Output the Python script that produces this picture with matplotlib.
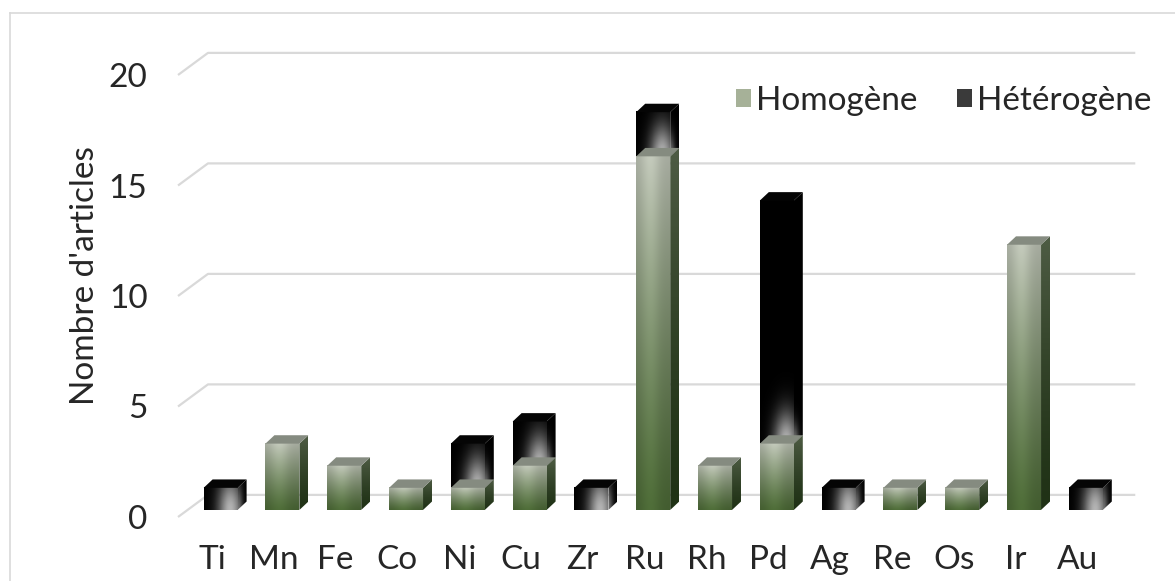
import numpy as np
import matplotlib.pyplot as plt
from matplotlib.patches import Polygon, Patch
from matplotlib.lines import Line2D

plt.rcParams['font.family'] = ['Lato', 'DejaVu Sans']

metaux = ['Ti', 'Mn', 'Fe', 'Co', 'Ni', 'Cu', 'Zr', 'Ru', 'Rh', 'Pd', 'Ag', 'Re', 'Os', 'Ir', 'Au']
homogene = [0, 3, 2, 1, 1, 2, 0, 16, 2, 3, 0, 1, 1, 12, 0]
heterogene = [1, 0, 0, 0, 2, 2, 1, 2, 0, 11, 1, 0, 0, 0, 1]
yticks = [0, 5, 10, 15, 20]

W, H = 1175, 581
fig = plt.figure(figsize=(W/100, H/100), dpi=100)
# axes placed so the front plane of the 3d box is the data plane
xmin, xmax = -0.55, 14.95
ymin, ymax = 0, 21
px_x, px_y = 61.8, 22.1
ax = fig.add_axes([178/W, (H-517)/H, (xmax-xmin)*px_x/W, (ymax-ymin)*px_y/H])
ax.set_xlim(xmin, xmax)
ax.set_ylim(ymin, ymax)
for s in ax.spines.values():
    s.set_visible(False)
ax.patch.set_alpha(0)

# floor depth and bar depth (data units)
fdx, fdy = 0.485, 1.0
bdx, bdy = 0.145, 0.38
bw = 0.55
boff = 0.14
b0 = 0.32

grid_col = '#d9d9d9'
for v in yticks:
    ax.plot([xmin, xmin+fdx, 14.94], [v, v+fdy, v+fdy], color=grid_col, lw=1.6,
            clip_on=False, zorder=1, solid_capstyle='butt')


def lerp(c1, c2, t):
    c1 = np.array(c1)/255.0
    c2 = np.array(c2)/255.0
    return c1[None, None, :]*(1-t[..., None]) + c2[None, None, :]*t[..., None]


def face_img(kind, face, h, n=80, m=40):
    u = np.linspace(0, 1, m)[None, :]*np.ones((n, 1))
    v = np.linspace(1, 0, n)[:, None]*np.ones((1, m))  # v=1 top row
    d = v*h  # height above bottom, data units
    if kind == 'homo':
        if face == 'front':
            img = lerp((78, 108, 56), (192, 198, 184), v**1.2)
            shade = 0.86 + 0.16*np.exp(-((u-0.42)**2)/0.08)
            img = np.clip(img*shade[..., None], 0, 1)
        else:
            img = lerp((32, 50, 22), (78, 92, 68), v**1.4)
    else:
        if face == 'front':
            g = 0.8*np.exp(-((u-0.78)**2)/0.14 - (d**2)/(2*1.0**2))
            img = lerp((0, 0, 0), (225, 225, 225), np.clip(g, 0, 1))
        else:
            g = 0.55*np.exp(-(u**2)/0.3 - (d**2)/(2*0.6**2))
            img = lerp((0, 0, 0), (210, 210, 210), np.clip(g, 0, 1))
    return img


def draw_box(x0, y0, h, kind, z):
    x1 = x0 + bw
    y1 = y0 + h
    # front face
    ax.imshow(face_img(kind, 'front', h), extent=(x0, x1, y0, y1), aspect='auto',
              interpolation='bilinear', zorder=z, clip_on=False)
    # side face
    side = Polygon([(x1, y0), (x1+bdx, y0+bdy), (x1+bdx, y1+bdy), (x1, y1)],
                   closed=True, fc='none', ec='none', transform=ax.transData)
    im = ax.imshow(face_img(kind, 'side', h), extent=(x1, x1+bdx, y0, y1+bdy), aspect='auto',
                   interpolation='bilinear', zorder=z, clip_on=True)
    ax.add_patch(side)
    im.set_clip_path(side)
    # top face
    top_col = '#858b80' if kind == 'homo' else '#050505'
    ax.add_patch(Polygon([(x0, y1), (x1, y1), (x1+bdx, y1+bdy), (x0+bdx, y1+bdy)],
                         closed=True, fc=top_col, ec='none', zorder=z+0.1, clip_on=False))


for i in range(len(metaux)):
    x0 = i + boff - bw/2
    z = 3 + i
    if heterogene[i] > 0:
        draw_box(x0, b0 + homogene[i], heterogene[i], 'hetero', z)
    if homogene[i] > 0:
        draw_box(x0, b0, homogene[i], 'homo', z + 0.5)

ax.set_xlim(xmin, xmax)
ax.set_ylim(ymin, ymax)

fs = 24
txt = '#262626'
ax.set_yticks(yticks)
ax.set_yticklabels([str(v) for v in yticks], fontsize=fs, color=txt)
ax.set_xticks(range(len(metaux)))
ax.set_xticklabels(metaux, fontsize=fs, color=txt)
ax.tick_params(axis='y', length=0, pad=22)
ax.tick_params(axis='x', length=0, pad=20)
ax.set_ylabel("Nombre d'articles", fontsize=fs, color=txt)
ax.yaxis.set_label_coords(-0.081, 0.52)

handles = [Patch(fc='#a6b198', ec='none'), Patch(fc='#3a3a3a', ec='none')]
leg = fig.legend(handles, ['Homogène', 'Hétérogène'], loc='center left', ncol=2,
                 frameon=False, fontsize=fs, handlelength=0.45, handleheight=0.45,
                 handletextpad=0.15, columnspacing=1.2, borderpad=0, borderaxespad=0,
                 bbox_to_anchor=(736/W, 1-101/H))
for t in leg.get_texts():
    t.set_color(txt)

fig.add_artist(Line2D([10/W, 10/W], [0, 1-13/H], color='#d9d9d9', lw=1.2))
fig.add_artist(Line2D([10/W, 1], [1-13/H, 1-13/H], color='#d9d9d9', lw=1.2))

fig.savefig('out.png', dpi=100)
